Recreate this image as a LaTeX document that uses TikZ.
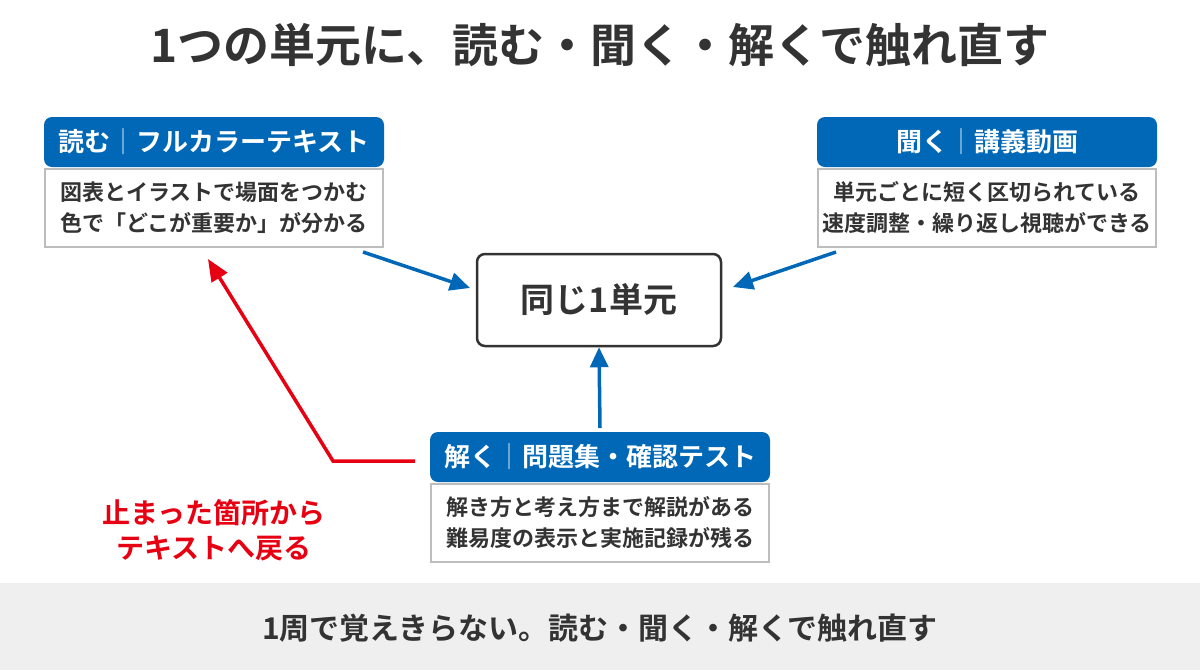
\documentclass[tikz,border=0pt]{standalone}
\usepackage{fontspec}
\setmainfont{Noto Sans CJK JP}[BoldFont={Noto Sans CJK JP Bold}]
\usetikzlibrary{arrows.meta}
\definecolor{tabblue}{HTML}{0068B7}
\definecolor{txt}{HTML}{333333}
\definecolor{gb}{HTML}{BDBDBD}
\definecolor{rd}{HTML}{E60012}
\definecolor{foot}{HTML}{EFEFEF}
\begin{document}
\begin{tikzpicture}[x=1pt,y=-1pt,
  tab/.style={fill=tabblue,rounded corners=8pt},
  body/.style={draw=gb,line width=2pt,fill=white},
  tabtxt/.style={text=white,font=\fontsize{26}{30}\selectfont\bfseries},
  bodytxt/.style={text=txt,font=\fontsize{22}{31}\selectfont\bfseries,align=center},
  barr/.style={draw=tabblue,line width=3.5pt,-{Triangle[length=20pt,width=18pt]}}]
\useasboundingbox (0,0) rectangle (1200,670);
\fill[white] (0,0) rectangle (1200,670);
\fill[foot] (0,583) rectangle (1200,670);
\node[text=txt,font=\fontsize{46}{50}\selectfont\bfseries] (title) at (600,45) {1つの単元に、読む・聞く・解くで触れ直す};
\node[text=txt,font=\fontsize{30}{34}\selectfont\bfseries] (foot) at (600,628) {1周で覚えきらない。読む・聞く・解くで触れ直す};
% box1
\fill[tab] (44,117) rectangle (384,167);
\draw[body] (45,169) rectangle (383,247);
\node[tabtxt] (t1) at (214,142) {読む\textcolor{white!70!tabblue}{｜}フルカラーテキスト};
\node[bodytxt] (b1) at (214,208) {図表とイラストで場面をつかむ\\色で「どこが重要か」が分かる};
% box2
\fill[tab] (817,117) rectangle (1157,167);
\draw[body] (818,169) rectangle (1156,247);
\node[tabtxt] (t2) at (987,142) {聞く\textcolor{white!70!tabblue}{｜}講義動画};
\node[bodytxt] (b2) at (987,208) {単元ごとに短く区切られている\\速度調整・繰り返し視聴ができる};
% box3
\fill[tab] (430,432) rectangle (770,482);
\draw[body] (431,484) rectangle (769,562);
\node[tabtxt] (t3) at (600,457) {解く\textcolor{white!70!tabblue}{｜}問題集・確認テスト};
\node[bodytxt] (b3) at (600,523) {解き方と考え方まで解説がある\\難易度の表示と実施記録が残る};
% center
\node[draw=txt,line width=2.5pt,rounded corners=8pt,minimum width=244pt,minimum height=92pt,fill=white,text=txt,font=\fontsize{34}{38}\selectfont\bfseries] (c) at (599,300) {同じ1単元};
\coordinate (a1s) at (363,252);
\coordinate (a2s) at (836,252);
\coordinate (a3s) at (600,428);
\draw[barr] (a1s) -- (470,288);
\draw[barr] (a2s) -- (733,287);
\draw[barr] (a3s) -- (c.south);
\coordinate (r0) at (415,461);
\coordinate (r1) at (333,461);
\coordinate (r2) at (208,259);
\draw[draw=rd,line width=3.5pt,-{Triangle[length=22pt,width=18pt]}] (r0) -- (r1) -- (r2);
\node[text=rd,font=\fontsize{28}{35}\selectfont\bfseries,align=center] (rt) at (214,530) {止まった箇所から\\テキストへ戻る};
\end{tikzpicture}
\end{document}
